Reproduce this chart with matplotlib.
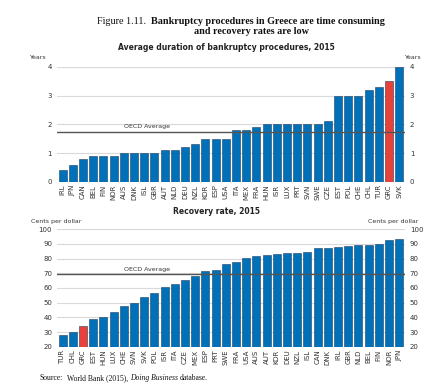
import numpy as np
import matplotlib.pyplot as plt

# Average duration of bankruptcy procedures, 2015 (years)
dur_countries = ['IRL', 'JPN', 'CAN', 'BEL', 'FIN', 'NOR', 'AUS', 'DNK', 'ISL', 'GBR',
                 'AUT', 'NLD', 'DEU', 'NZL', 'KOR', 'ESP', 'USA', 'ITA', 'MEX', 'FRA',
                 'HUN', 'ISR', 'LUX', 'PRT', 'SVN', 'SWE', 'CZE', 'EST', 'POL', 'CHE',
                 'CHL', 'TUR', 'GRC', 'SVK']
dur_values = [0.4, 0.6, 0.8, 0.9, 0.9, 0.9, 1.0, 1.0, 1.0, 1.0,
              1.1, 1.1, 1.2, 1.3, 1.5, 1.5, 1.5, 1.8, 1.8, 1.9,
              2.0, 2.0, 2.0, 2.0, 2.0, 2.0, 2.1, 3.0, 3.0, 3.0,
              3.2, 3.3, 3.5, 4.0]
dur_oecd = 1.75

# Recovery rate, 2015 (cents per dollar)
rec_countries = ['TUR', 'CHL', 'GRC', 'EST', 'HUN', 'LUX', 'CHE', 'SVN', 'SVK', 'POL',
                 'ISR', 'ITA', 'CZE', 'MEX', 'ESP', 'PRT', 'SWE', 'FRA', 'USA', 'AUS',
                 'AUT', 'KOR', 'DEU', 'NZL', 'ISL', 'CAN', 'DNK', 'IRL', 'GBR', 'NLD',
                 'BEL', 'FIN', 'NOR', 'JPN']
rec_values = [28, 30, 34, 39, 40, 44, 47.5, 50, 54, 56.5,
              61, 62.5, 65.5, 68, 71.5, 72, 76.5, 77.5, 80.5, 81.5,
              82.5, 83, 83.5, 83.5, 84.5, 87.5, 87.5, 88, 88.5, 89,
              89, 90, 92.5, 93]
rec_oecd = 69.5

blue = '#0070b8'
red = '#e8413c'
grid_c = '#d9d9d9'
line_c = '#555555'
txt_c = '#333333'

fig = plt.figure(figsize=(4.28, 3.91), dpi=100)
renderer = fig.canvas.get_renderer()


def draw(ax, countries, values, oecd, ymin, ymax, step):
    x = np.arange(len(countries))
    colors = [red if c == 'GRC' else blue for c in countries]
    ax.bar(x, values, width=0.78, color=colors, edgecolor='#1f3f5f',
           linewidth=0.4, zorder=3)
    ax.set_xlim(-0.55, len(countries) - 0.45)
    ax.set_ylim(ymin, ymax)
    ticks = np.arange(ymin, ymax + step / 2, step)
    ax.set_yticks(ticks)
    ax.set_yticklabels([f'{t:g}' for t in ticks])
    ax.yaxis.grid(True, color=grid_c, linewidth=0.8, zorder=0)
    ax.set_axisbelow(True)
    ax.axhline(oecd, color=line_c, linewidth=1.0, zorder=4)
    ax.text(8.3, oecd + (ymax - ymin) * 0.02, 'OECD Average', fontsize=4.5,
            ha='center', va='bottom', color=txt_c)
    ax.set_xticks(x)
    ax.set_xticklabels(countries, rotation=90, fontsize=5, color=txt_c)
    ax.tick_params(axis='y', labelsize=5, length=0, labelcolor=txt_c,
                   labelright=True, right=False)
    ax.tick_params(axis='x', length=0, pad=2)
    for s in ax.spines.values():
        s.set_visible(False)


ax1 = fig.add_axes([0.133, 0.535, 0.813, 0.294])
draw(ax1, dur_countries, dur_values, dur_oecd, 0, 4, 1)
ax1.text(-0.03, 1.06, 'Years', transform=ax1.transAxes, fontsize=4.5,
         ha='right', va='bottom', color=txt_c)
ax1.text(1.0, 1.06, 'Years', transform=ax1.transAxes, fontsize=4.5,
         ha='left', va='bottom', color=txt_c)

ax2 = fig.add_axes([0.133, 0.113, 0.813, 0.301])
draw(ax2, rec_countries, rec_values, rec_oecd, 20, 100, 10)
ax2.text(0.07, 1.04, 'Cents per dollar', transform=ax2.transAxes, fontsize=4.5,
         ha='right', va='bottom', color=txt_c)
ax2.text(1.04, 1.04, 'Cents per dollar', transform=ax2.transAxes, fontsize=4.5,
         ha='right', va='bottom', color=txt_c)


def chain(parts, x0, y, size, family='Liberation Serif'):
    # place text pieces one after another on a line (figure pixels)
    x = x0
    for s, gap, kw in parts:
        t = fig.text(x / 428, 1 - y / 391, s, fontsize=size, family=family,
                     ha='left', va='center', color='#111111', **kw)
        x += t.get_window_extent(renderer).width + gap


chain([('Figure 1.11.', 5, {}),
       ('Bankruptcy procedures in Greece are time consuming', 0, {'weight': 'bold'})],
      97, 21, 7.3)
fig.text(252 / 428, 1 - 32 / 391, 'and recovery rates are low', fontsize=7.3,
         family='Liberation Serif', weight='bold', ha='center', va='center',
         color='#111111')

fig.text(0.53, 0.879, 'Average duration of bankruptcy procedures, 2015',
         fontsize=5.5, weight='bold', ha='center', va='center', color='#222222')
fig.text(0.505, 0.459, 'Recovery rate, 2015', fontsize=5.5, weight='bold',
         ha='center', va='center', color='#222222')

chain([('Source:', 4, {}),
       ('World Bank (2015),', 1.5, {}),
       ('Doing Business', 1.5, {'style': 'italic'}),
       ('database.', 0, {})],
      40, 378, 5.5)

fig.savefig('out.png', dpi=100, facecolor='white')
